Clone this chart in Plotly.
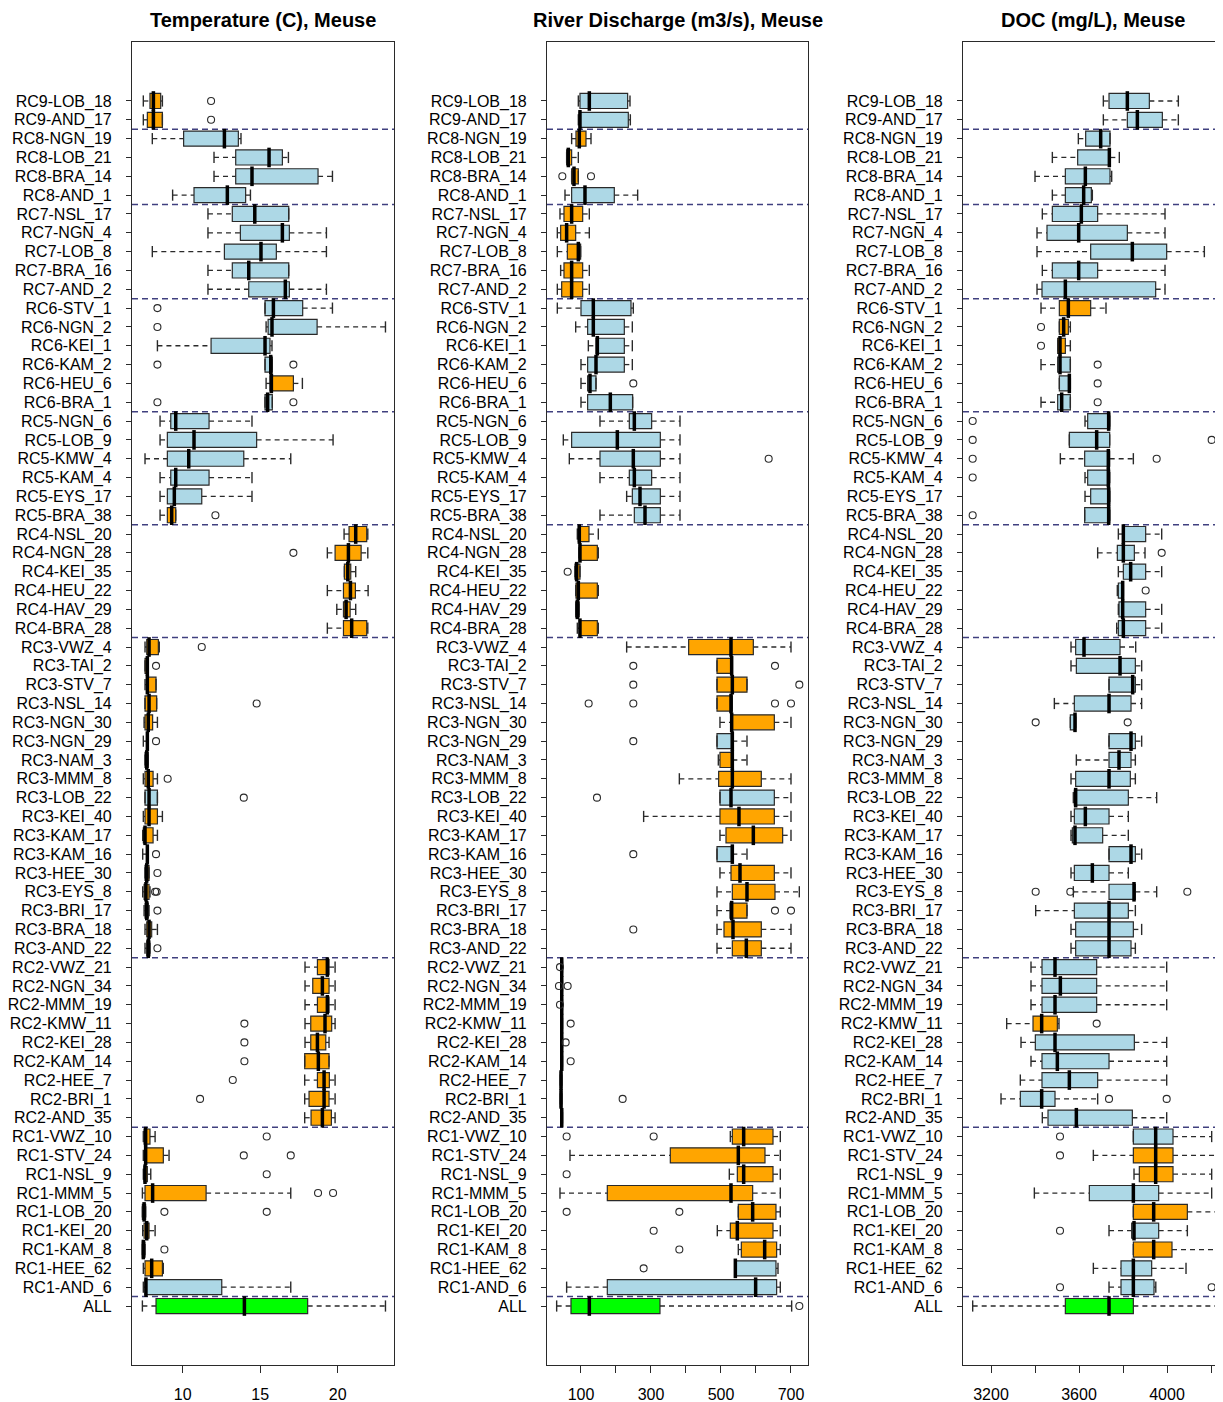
import plotly.graph_objects as go

categories = ["RC9-LOB_18", "RC9-AND_17", "RC8-NGN_19", "RC8-LOB_21", "RC8-BRA_14", "RC8-AND_1",
              "RC7-NSL_17", "RC7-NGN_4", "RC7-LOB_8", "RC7-BRA_16", "RC7-AND_2",
              "RC6-STV_1", "RC6-NGN_2", "RC6-KEI_1", "RC6-KAM_2", "RC6-HEU_6", "RC6-BRA_1",
              "RC5-NGN_6", "RC5-LOB_9", "RC5-KMW_4", "RC5-KAM_4", "RC5-EYS_17", "RC5-BRA_38",
              "RC4-NSL_20", "RC4-NGN_28", "RC4-KEI_35", "RC4-HEU_22", "RC4-HAV_29", "RC4-BRA_28",
              "RC3-VWZ_4", "RC3-TAI_2", "RC3-STV_7", "RC3-NSL_14", "RC3-NGN_30", "RC3-NGN_29",
              "RC3-NAM_3", "RC3-MMM_8", "RC3-LOB_22", "RC3-KEI_40", "RC3-KAM_17", "RC3-KAM_16",
              "RC3-HEE_30", "RC3-EYS_8", "RC3-BRI_17", "RC3-BRA_18", "RC3-AND_22",
              "RC2-VWZ_21", "RC2-NGN_34", "RC2-MMM_19", "RC2-KMW_11", "RC2-KEI_28", "RC2-KAM_14",
              "RC2-HEE_7", "RC2-BRI_1", "RC2-AND_35",
              "RC1-VWZ_10", "RC1-STV_24", "RC1-NSL_9", "RC1-MMM_5", "RC1-LOB_20", "RC1-KEI_20",
              "RC1-KAM_8", "RC1-HEE_62", "RC1-AND_6", "ALL"]

# ---------------- Temperature (C) ----------------
temp_low = [7.46, 7.46, 8.04, 12.02, 12.02, 9.35, 11.63, 11.63, 8.04, 11.63, 11.63,
            15.31, 15.38, 8.37, 15.31, 15.38, 15.31,
            8.54, 8.54, 7.57, 8.54, 8.54, 8.54,
            20.41, 19.33, 20.43, 19.33, 19.94, 19.33,
            7.57, 7.57, 7.57, 7.57, 7.51, 7.46, 7.57, 7.46, 7.57, 7.46, 7.42, 7.42, 7.57, 7.42, 7.51, 7.57, 7.57,
            17.89, 17.89, 17.89, 17.89, 17.89, 17.87, 17.87, 17.87, 17.87,
            7.46, 7.46, 7.46, 7.40, 7.40, 7.42, 7.40, 7.46, 7.46, 7.40]
temp_q1 = [7.89, 7.72, 10.06, 13.42, 13.42, 10.73, 13.2, 13.72, 12.69, 13.2, 14.26,
           15.31, 15.51, 11.83, 15.31, 15.63, 15.31,
           9.23, 9.01, 9.01, 9.23, 9.01, 9.01,
           20.73, 19.83, 20.43, 20.37, 20.37, 20.37,
           7.68, 7.57, 7.68, 7.57, 7.57, 7.68, 7.57, 7.57, 7.57, 7.57, 7.46, 7.68, 7.57, 7.51, 7.57, 7.68, 7.68,
           18.69, 18.39, 18.69, 18.26, 18.26, 17.87, 18.69, 18.15, 18.28,
           7.51, 7.57, 7.51, 7.57, 7.40, 7.51, 7.40, 7.57, 7.57, 8.28]
temp_med = [8.11, 8.11, 12.69, 15.57, 14.47, 12.88, 14.65, 16.43, 15.05, 14.26, 16.62,
            15.85, 15.76, 15.31, 15.68, 15.72, 15.48,
            9.55, 10.73, 10.39, 9.55, 9.46, 9.29,
            21.16, 20.69, 20.65, 20.82, 20.54, 20.90,
            7.83, 7.72, 7.72, 7.83, 7.78, 7.72, 7.68, 7.78, 7.83, 7.83, 7.57, 7.72, 7.68, 7.63, 7.68, 7.83, 7.78,
            19.33, 19.01, 19.33, 19.18, 18.69, 18.75, 19.12, 19.12, 19.01,
            7.61, 7.61, 7.57, 8.06, 7.51, 7.68, 7.46, 8.0, 7.63, 13.98]
temp_q3 = [8.58, 8.69, 13.59, 16.43, 18.73, 14.06, 16.84, 16.88, 16.04, 16.84, 16.88,
           17.74, 18.67, 15.63, 15.78, 17.14, 15.78,
           11.70, 14.77, 13.94, 11.70, 11.23, 9.55,
           21.87, 21.51, 20.84, 21.14, 20.80, 21.87,
           8.43, 7.78, 8.28, 8.32, 8.06, 7.78, 7.78, 8.09, 8.37, 8.37, 8.09, 7.78, 7.83, 7.83, 7.78, 8.0, 7.89,
           19.44, 19.44, 19.44, 19.61, 19.23, 19.44, 19.46, 19.44, 19.59,
           7.89, 8.75, 7.72, 11.51, 7.61, 7.83, 7.57, 8.69, 12.52, 18.06]
temp_high = [8.69, 8.69, 13.76, 16.82, 19.66, 14.37, 16.84, 19.27, 19.27, 16.84, 19.27,
             19.66, 23.08, 15.76, 15.78, 17.72, 15.78,
             14.47, 19.70, 16.97, 14.47, 14.47, 9.55,
             21.94, 21.94, 21.16, 21.96, 21.16, 21.94,
             8.49, 7.78, 8.28, 8.32, 8.37, 7.78, 7.78, 8.37, 8.37, 8.69, 8.37, 7.78, 7.83, 7.89, 7.83, 8.37, 7.89,
             19.83, 19.83, 19.83, 19.83, 19.44, 19.44, 19.83, 19.83, 19.83,
             8.22, 9.12, 7.94, 16.97, 7.61, 8.22, 7.57, 8.75, 16.97, 23.08]
temp_out = [[11.83], [11.83], [], [], [], [], [], [], [], [], [],
            [8.37], [8.37], [], [8.37, 17.14], [], [8.37, 17.14],
            [], [], [], [], [], [12.11],
            [], [17.14], [], [], [], [],
            [11.23], [8.28], [], [14.77], [], [8.28], [], [9.03], [13.94], [], [], [8.28], [8.37], [8.22, 8.32], [8.37], [], [8.37],
            [], [], [], [13.98], [13.98], [13.98], [13.23], [11.12], [],
            [15.42], [13.94, 16.97], [15.42], [18.73, 19.70], [8.82, 15.42], [], [8.82], [], [], []]
temp_col = list("OOBBBBBBBBBBBBBOBBBBBBOOOOOOOOOOOOOOOBOOOOOOOOOOOOOOOOOOOOOOOOOBG")

# ---------------- River discharge (m3/s) ----------------
q_low = [92.4, 92.4, 73.3, 59, 73.3, 54.3, 40, 32.4, 32.4, 41.9, 32.4,
         32.4, 84.8, 121, 100, 100, 100,
         154.3, 49.5, 66.7, 154.3, 230.5, 154.3,
         89.5, 94.3, 82.9, 84.8, 84.8, 89.5,
         230.5, 488.6, 488.6, 488.6, 497.1, 488.6, 492.4, 381, 497.1, 279, 497.1, 488.6, 497.1, 488.6, 488.6, 488.6, 488.6,
         43, 43, 43, 43, 43, 43, 41, 41, 43,
         526.7, 68.6, 523.8, 40, 549.5, 489.5, 549.5, 540, 59, 30.5]
q_q1 = [97.1, 95.2, 85.7, 59, 73.3, 73.3, 51.4, 41.9, 61, 51.4, 44.8,
        100, 119, 142.9, 119, 119, 119,
        238.1, 73.3, 154.3, 238.1, 246.7, 252.4,
        92.4, 95.2, 82.9, 85.7, 84.8, 95.2,
        407.6, 488.6, 488.6, 488.6, 528.6, 488.6, 497.1, 493.3, 497.1, 497.1, 514.3, 488.6, 528.6, 532.4, 525.7, 508.6, 532.4,
        43, 43, 43, 43, 43, 43, 41, 41, 43,
        532.4, 355.2, 546.7, 175.2, 549.5, 526.7, 558.1, 540, 175.2, 71.4]
q_med = [123.8, 97.1, 95.2, 63.8, 80, 111.4, 73.3, 59, 92.4, 73.3, 73.3,
         135.2, 135.2, 146.7, 142.9, 125.7, 183.8,
         252.4, 203.8, 249.5, 252.4, 268.6, 282.9,
         95.2, 97.1, 87.6, 92.4, 89.5, 97.1,
         528.6, 530.5, 532.4, 528.6, 530.5, 532.4, 532.4, 532.4, 528.6, 551.4, 592.4, 532.4, 554.3, 574.3, 530.5, 534.3, 572.4,
         45, 45, 45, 45, 45, 45, 43, 43, 45,
         564.8, 549.5, 564.8, 528.6, 590.5, 546.7, 624.8, 541, 599, 123.8]
q_q3 = [233.3, 235.2, 114.3, 73.3, 92.4, 195.2, 104.8, 84.8, 99, 104.8, 104.8,
        242.9, 223.8, 223.8, 223.8, 142.9, 247.6,
        301.9, 326.7, 326.7, 301.9, 326.7, 326.7,
        122.9, 146.7, 97.1, 146.7, 95.2, 146.7,
        592.4, 532.4, 574.3, 532.4, 652.4, 532.4, 532.4, 615.2, 652.4, 652.4, 676.2, 532.4, 652.4, 654.3, 574.3, 615.2, 615.2,
        47, 47, 47, 47, 47, 47, 45, 45, 47,
        648.6, 625.7, 648.6, 590.5, 657.1, 648.6, 659, 657.1, 659, 325.7]
q_high = [240, 241, 128.6, 92.4, 92.4, 261.9, 123.8, 123.8, 99, 123.8, 123.8,
          249.5, 246.7, 246.7, 246.7, 142.9, 247.6,
          382.9, 382.9, 382.9, 382.9, 382.9, 382.9,
          149.5, 149.5, 97.1, 149.5, 95.2, 149.5,
          700, 532.4, 574.3, 532.4, 700, 574.3, 574.3, 700, 700, 700, 700, 574.3, 700, 723.8, 574.3, 700, 700,
          47, 47, 47, 47, 47, 47, 45, 45, 47,
          669.5, 669.5, 669.5, 669.5, 669.5, 669.5, 669.5, 662.9, 669.5, 701.9]
q_out = [[], [], [], [], [46.7, 128.6], [], [], [], [], [], [],
         [], [], [], [], [249.5], [],
         [], [], [636.2], [], [], [],
         [], [], [61.9], [], [], [],
         [], [249.5, 654.3], [249.5, 723.8], [121.9, 249.5, 654.3, 700], [], [249.5], [], [], [145.7], [], [], [249.5], [], [], [654.3, 700], [249.5], [],
         [40], [37.1, 61.9], [40], [70.5], [56.2], [70.5], [], [219], [],
         [59, 307.6], [], [59], [], [59, 381], [307.6], [381], [279], [], [723.8]]
q_col = list("BBOOOBOOOOOBBBBBBBBBBBBOOOOOOOOOOOBOOBOOBOOOOOOOOOOOOOOOOOOOOOBBG")

# ---------------- DOC (mg/L) ----------------
doc_low = [3710.6, 3710.6, 3597, 3478.8, 3400, 3478.8, 3433.3, 3409.1, 3409.1, 3433.3, 3409.1,
           3427.3, 3510.6, 3503, 3427.3, 3510.6, 3427.3,
           3627.3, 3556.1, 3515.2, 3627.3, 3627.3, 3625.8,
           3778.8, 3684.8, 3778.8, 3774.2, 3778.8, 3771.2,
           3563.6, 3563.6, 3736.4, 3487.9, 3560.6, 3736.4, 3587.9, 3563.6, 3574.2, 3563.6, 3563.6, 3736.4, 3563.6, 3574.2, 3403, 3563.6, 3563.6,
           3381.8, 3381.8, 3381.8, 3271.2, 3336.4, 3381.8, 3333.3, 3245.5, 3433.3,
           3847, 3665.2, 3850, 3397, 3847, 3736.4, 3847, 3665.2, 3736.4, 3116.7]
doc_q1 = [3736.4, 3819.7, 3630.3, 3593.9, 3537.9, 3537.9, 3478.8, 3454.5, 3653, 3478.8, 3431.8,
          3510.6, 3510.6, 3503, 3503, 3510.6, 3503,
          3639.4, 3556.1, 3625.8, 3639.4, 3653, 3625.8,
          3798.5, 3774.2, 3801.5, 3778.8, 3781.8, 3778.8,
          3584.8, 3587.9, 3736.4, 3578.8, 3560.6, 3736.4, 3736.4, 3584.8, 3578.8, 3578.8, 3569.7, 3736.4, 3578.8, 3736.4, 3578.8, 3584.8, 3584.8,
          3431.8, 3431.8, 3431.8, 3390.9, 3401.5, 3431.8, 3431.8, 3333.3, 3459.1,
          3847, 3847, 3874.2, 3647, 3847, 3839.4, 3847, 3790.9, 3790.9, 3537.9]
doc_med = [3819.7, 3865.2, 3698.5, 3737.9, 3628.8, 3621.2, 3610.6, 3598.5, 3842.4, 3598.5, 3537.9,
           3551.5, 3530.3, 3513.6, 3513.6, 3556.1, 3521.2,
           3734.8, 3680.3, 3733.3, 3733.3, 3734.8, 3734.8,
           3801.5, 3801.5, 3834.8, 3798.5, 3798.5, 3801.5,
           3622.7, 3786.4, 3843.9, 3736.4, 3581.8, 3836.4, 3781.8, 3736.4, 3584.8, 3628.8, 3581.8, 3836.4, 3660.6, 3850, 3736.4, 3736.4, 3736.4,
           3490.9, 3515.2, 3490.9, 3430.3, 3490.9, 3501.5, 3556.1, 3430.3, 3587.9,
           3948.5, 3948.5, 3948.5, 3847, 3939.4, 3850, 3939.4, 3847, 3847, 3736.4]
doc_q3 = [3919.7, 3978.8, 3740.9, 3742.4, 3740.9, 3656.1, 3684.8, 3819.7, 3998.5, 3684.8, 3948.5,
          3653, 3551.5, 3537.9, 3560.6, 3560.6, 3560.6,
          3739.4, 3739.4, 3739.4, 3739.4, 3739.4, 3739.4,
          3903, 3851.5, 3903, 3801.5, 3903, 3903,
          3786.4, 3856.1, 3856.1, 3836.4, 3584.8, 3856.1, 3836.4, 3833.3, 3824.2, 3736.4, 3707.6, 3856.1, 3736.4, 3856.1, 3824.2, 3847, 3836.4,
          3680.3, 3680.3, 3680.3, 3501.5, 3851.5, 3736.4, 3684.8, 3490.9, 3842.4,
          4027.3, 4027.3, 4027.3, 3962.1, 4092.4, 3962.1, 4022.7, 3930.3, 3940.9, 3847]
doc_high = [4051.5, 4051.5, 3740.9, 3783.3, 3748.5, 3660.6, 3990.9, 3990.9, 4169.7, 3990.9, 3990.9,
            3722.7, 3560.6, 3560.6, 3560.6, 3560.6, 3560.6,
            3739.4, 3739.4, 3847, 3739.4, 3739.4, 3739.4,
            3975.8, 3900, 3975.8, 3801.5, 3975.8, 3975.8,
            3857.6, 3884.8, 3884.8, 3884.8, 3584.8, 3884.8, 3856.1, 3856.1, 3953, 3824.2, 3824.2, 3884.8, 3824.2, 3953, 3856.1, 3884.8, 3856.1,
            3998.5, 3998.5, 3998.5, 3509, 3998.5, 3998.5, 3998.5, 3684.8, 3998.5,
            4203, 4222.7, 4203, 4203, 4222.7, 4092.4, 4222.7, 4086.4, 3949, 4222.7]
doc_out = [[], [], [], [], [], [], [], [], [], [], [],
           [], [3427.3], [3427.3], [3684.8], [3684.8], [3684.8],
           [3116.7], [3116.7, 4203], [3116.7, 3953], [3116.7], [], [3116.7],
           [], [3975.8], [], [3903], [], [],
           [], [], [], [], [3403, 3821.2], [], [], [], [], [], [], [], [], [3403, 3560.6, 4092.4], [], [], [],
           [], [], [], [3680.3], [], [], [], [3736.4, 3998.5], [],
           [3513.6], [3513.6], [], [], [], [3513.6], [], [], [3513.6, 4203], []]
doc_col = list("BBBBBBBBBBBOOOBBBBBBBBBBBBBBBBBBBBBBBBBBBBBBBBBBBOBBBBBBOOBOBOBBG")

panel_titles = ["Temperature (C), Meuse", "River Discharge (m3/s), Meuse", "DOC (mg/L), Meuse"]
x_ranges = [[6.73, 23.63], [2.9, 748.6], [3072.7, 4254.5]]
x_tickvals = [[10, 15, 20], [100, 200, 300, 400, 500, 600, 700], [3200, 3400, 3600, 3800, 4000, 4200]]
x_ticktext = [["10", "15", "20"], ["100", "", "300", "", "500", "", "700"],
              ["3200", "", "3600", "", "4000", ""]]

panels = [
    (temp_low, temp_q1, temp_med, temp_q3, temp_high, temp_out, temp_col),
    (q_low, q_q1, q_med, q_q3, q_high, q_out, q_col),
    (doc_low, doc_q1, doc_med, doc_q3, doc_high, doc_out, doc_col),
]

# the page places the figure 8 px from the top-left corner
W, H = 1215, 1394
domains = [[124 / W, 386 / W], [539 / W, 800 / W], [955 / W, 1.0]]
fills = {"B": "#ADD8E6", "O": "#FFA500", "G": "#00FF00"}
edge = "#2a2a2a"
FONT = "Liberation Sans, Arial, sans-serif"

fig = go.Figure()
pos = list(range(len(categories)))
n = len(categories)

for p, (lo, q1, med, q3, hi, outs, cols) in enumerate(panels):
    xa = "x" if p == 0 else f"x{p+1}"
    ya = "y" if p == 0 else f"y{p+1}"
    # dashed whiskers
    wx, wy = [], []
    for i in pos:
        if lo[i] < q1[i]:
            wx += [lo[i], q1[i], None]
            wy += [i, i, None]
        if hi[i] > q3[i]:
            wx += [q3[i], hi[i], None]
            wy += [i, i, None]
    fig.add_trace(go.Scatter(x=wx, y=wy, mode="lines", line=dict(color=edge, width=1.3, dash="5px,4px"),
                             xaxis=xa, yaxis=ya, hoverinfo="skip", showlegend=False))
    # staples
    fig.add_trace(go.Scatter(x=lo + hi, y=pos + pos, mode="markers",
                             marker=dict(symbol="line-ns", size=8, line=dict(color=edge, width=1.4)),
                             xaxis=xa, yaxis=ya, hoverinfo="skip", showlegend=False))
    # boxes by colour
    for code, fc in fills.items():
        idx = [i for i in pos if cols[i] == code]
        if not idx:
            continue
        fig.add_trace(go.Box(
            y=idx, q1=[q1[i] for i in idx], median=[med[i] for i in idx], q3=[q3[i] for i in idx],
            lowerfence=[q1[i] for i in idx], upperfence=[q3[i] for i in idx],
            orientation="h", width=0.8, fillcolor=fc, line=dict(color=edge, width=1.2),
            whiskerwidth=0, boxpoints=False, xaxis=xa, yaxis=ya, hoverinfo="skip", showlegend=False))
    # medians
    fig.add_trace(go.Scatter(x=med, y=pos, mode="markers",
                             marker=dict(symbol="line-ns", size=14, line=dict(color="black", width=3.5)),
                             xaxis=xa, yaxis=ya, hoverinfo="skip", showlegend=False))
    # outliers
    ox, oy = [], []
    for i in pos:
        for v in outs[i]:
            ox.append(v)
            oy.append(i)
    fig.add_trace(go.Scatter(x=ox, y=oy, mode="markers",
                             marker=dict(symbol="circle-open", size=7, color=edge, line=dict(width=1.1)),
                             xaxis=xa, yaxis=ya, hoverinfo="skip", showlegend=False))
    # group separators
    for i in range(n - 1):
        if categories[i].split("-")[0] != categories[i + 1].split("-")[0]:
            fig.add_shape(type="line", xref=f"{xa} domain", yref=ya, x0=0, x1=1, y0=i + 0.5, y1=i + 0.5,
                          line=dict(color="#40407f", width=1.5, dash="6px,4px"), layer="below")
    axis_x = dict(domain=domains[p], range=x_ranges[p], tickvals=x_tickvals[p], ticktext=x_ticktext[p],
                  ticks="outside", ticklen=7, tickcolor=edge, showline=True, mirror=True, linecolor=edge,
                  linewidth=1.2, showgrid=False, zeroline=False, anchor=ya, automargin=False,
                  tickfont=dict(size=16, color="black", family=FONT), ticklabelstandoff=8)
    axis_y = dict(domain=[0, 1], range=[n - 1 + 3.133, -3.133], tickvals=pos, ticktext=categories,
                  ticks="outside", ticklen=5, tickcolor=edge, showline=True, mirror=True, linecolor=edge,
                  linewidth=1.2, showgrid=False, zeroline=False, anchor=xa, automargin=False,
                  tickfont=dict(size=16, color="black", family=FONT), ticklabelstandoff=11)
    fig.update_layout({("xaxis" if p == 0 else f"xaxis{p+1}"): axis_x,
                       ("yaxis" if p == 0 else f"yaxis{p+1}"): axis_y})
    fig.add_annotation(text=f"<b>{panel_titles[p]}</b>", x=(domains[p][0] + domains[p][1]) / 2, y=1,
                       xref="paper", yref="paper", xanchor="center", yanchor="bottom", yshift=9,
                       showarrow=False, font=dict(size=20, color="black", family=FONT))

fig.update_layout(width=W, height=H, margin=dict(l=0, r=0, t=34, b=37), boxmode="overlay",
                  plot_bgcolor="white", paper_bgcolor="white", showlegend=False,
                  font=dict(family=FONT, color="black"))
fig.write_html("out.html")
